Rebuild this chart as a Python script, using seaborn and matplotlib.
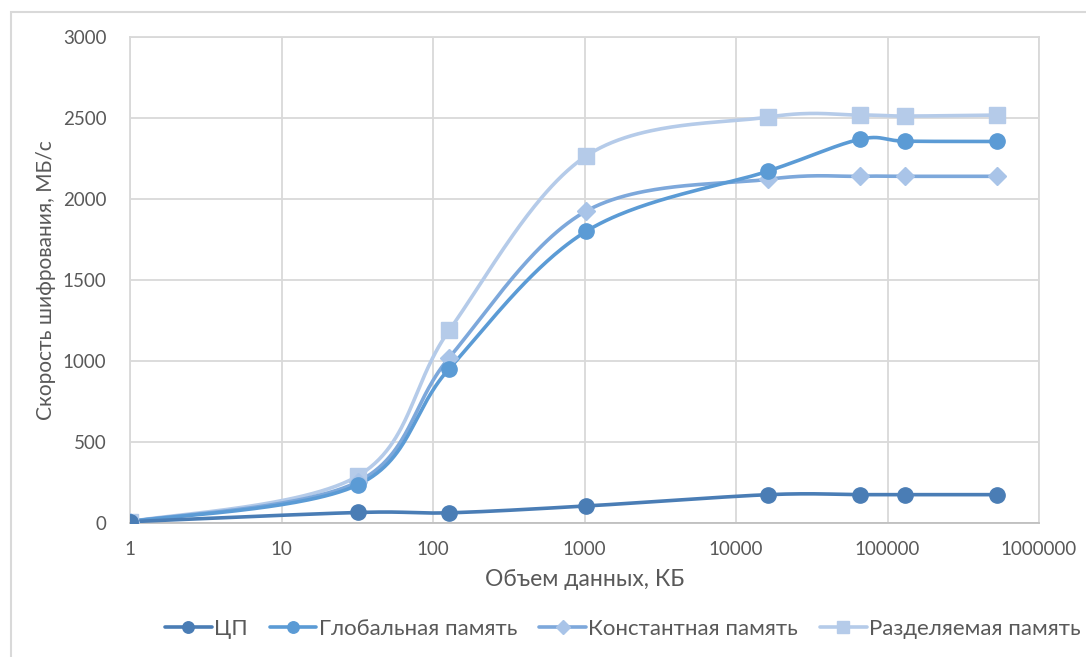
import numpy as np
import matplotlib
matplotlib.use("Agg")
import matplotlib.pyplot as plt
import seaborn as sns
from matplotlib.lines import Line2D
from matplotlib.patches import Rectangle

# Data sizes (KB) and encryption throughput (MB/s)
sizes_kb = [1, 32, 128, 1024, 16384, 65536, 131072, 524288]
cpu = [8, 65, 63, 105, 175, 175, 175, 175]
global_mem = [8, 236, 953, 1800, 2173, 2368, 2357, 2355]
const_mem = [8, 255, 1021, 1925, 2122, 2140, 2140, 2140]
shared_mem = [8, 291, 1190, 2265, 2506, 2518, 2512, 2518]

series_names = ["ЦП", "Глобальная память", "Константная память", "Разделяемая память"]
line_colors = ["#4A7DB5", "#5B9BD5", "#7DA8DB", "#B5CBE9"]
marker_colors = ["#4A7DB5", "#5B9BD5", "#A9C4E8", "#B5CBE9"]
markers = ["o", "o", "D", "s"]
marker_sizes = [11, 11, 9, 12]

y_ticks = [0, 500, 1000, 1500, 2000, 2500, 3000]
x_ticks = [1, 10, 100, 1000, 10000, 100000, 1000000]
x_tick_labels = ["1", "10", "100", "1000", "10000", "100000", "1000000"]

text_color = "#595959"
grid_color = "#D9D9D9"


def smooth_curve(xs, ys, n=60):
    """Bezier-smoothed path through the points in (log10 x, y) space."""
    pts = np.column_stack([np.log10(np.asarray(xs, float)), np.asarray(ys, float)])
    ext = np.vstack([pts[0], pts, pts[-1]])
    t = np.linspace(0, 1, n)[:, None]
    parts = []
    for i in range(len(pts) - 1):
        p0, p1, p2, p3 = ext[i], ext[i + 1], ext[i + 2], ext[i + 3]
        c1 = p1 + (p2 - p0) / 6.0
        c2 = p2 - (p3 - p1) / 6.0
        seg = ((1 - t) ** 3) * p1 + 3 * ((1 - t) ** 2) * t * c1 + 3 * (1 - t) * t ** 2 * c2 + t ** 3 * p2
        parts.append(seg if i == 0 else seg[1:])
    arr = np.vstack(parts)
    return 10 ** arr[:, 0], arr[:, 1]


sns.set_theme(style="white")
plt.rcParams["font.family"] = ["Lato", "DejaVu Sans"]

fig = plt.figure(figsize=(10.86, 6.57), dpi=100)
ax = fig.add_axes([130 / 1086, 1 - 523 / 657, (1039 - 130) / 1086, (523 - 37) / 657])

# Outer chart frame
fig.patches.append(Rectangle((11 / 1086, -0.05), 1.2, 1 - 12 / 657 + 0.05,
                             transform=fig.transFigure, fill=False,
                             edgecolor="#D9D9D9", linewidth=1.5, zorder=0))

all_series = [cpu, global_mem, const_mem, shared_mem]
# Draw the lighter series first so the darker ones sit on top
for idx in [3, 2, 1, 0]:
    vals = all_series[idx]
    sx, sy = smooth_curve(sizes_kb, vals)
    sns.lineplot(x=sx, y=sy, ax=ax, color=line_colors[idx], linewidth=2.6,
                 sort=False, estimator=None, legend=False, zorder=3)
    ax.plot(sizes_kb, vals, linestyle="none", marker=markers[idx],
            markersize=marker_sizes[idx], markerfacecolor=marker_colors[idx],
            markeredgecolor=marker_colors[idx], zorder=4)

ax.set_xscale("log")
ax.set_xlim(1, 1000000)
ax.set_ylim(0, 3000)
ax.set_xticks(x_ticks)
ax.set_xticklabels(x_tick_labels)
ax.set_yticks(y_ticks)
ax.xaxis.set_minor_locator(matplotlib.ticker.NullLocator())

ax.grid(True, which="major", color=grid_color, linewidth=1.3)
ax.set_axisbelow(True)
for side in ["top", "right", "left"]:
    ax.spines[side].set_color(grid_color)
    ax.spines[side].set_linewidth(1.3)
ax.spines["bottom"].set_color("#BFBFBF")
ax.spines["bottom"].set_linewidth(1.3)

ax.tick_params(axis="y", length=0, pad=17, labelsize=13.5, labelcolor=text_color)
ax.tick_params(axis="x", length=0, pad=13, labelsize=13.5, labelcolor=text_color)

ax.set_xlabel("Объем данных, КБ", fontsize=16.5, color=text_color, labelpad=8)
ax.set_ylabel("Скорость шифрования, МБ/с", fontsize=15, color=text_color, labelpad=5)

handles = [Line2D([0], [0], color=line_colors[i], linewidth=2.6, marker=markers[i],
                  markersize=marker_sizes[i] * 0.75, markerfacecolor=marker_colors[i],
                  markeredgecolor=marker_colors[i]) for i in range(4)]
fig.legend(handles, series_names, loc="center left",
           bbox_to_anchor=(145 / 1086, 1 - 629 / 657), ncol=4, frameon=False,
           fontsize=16, labelcolor=text_color, handlelength=2.1, handletextpad=0.1,
           columnspacing=1.0)

fig.savefig("out.png", dpi=100)
